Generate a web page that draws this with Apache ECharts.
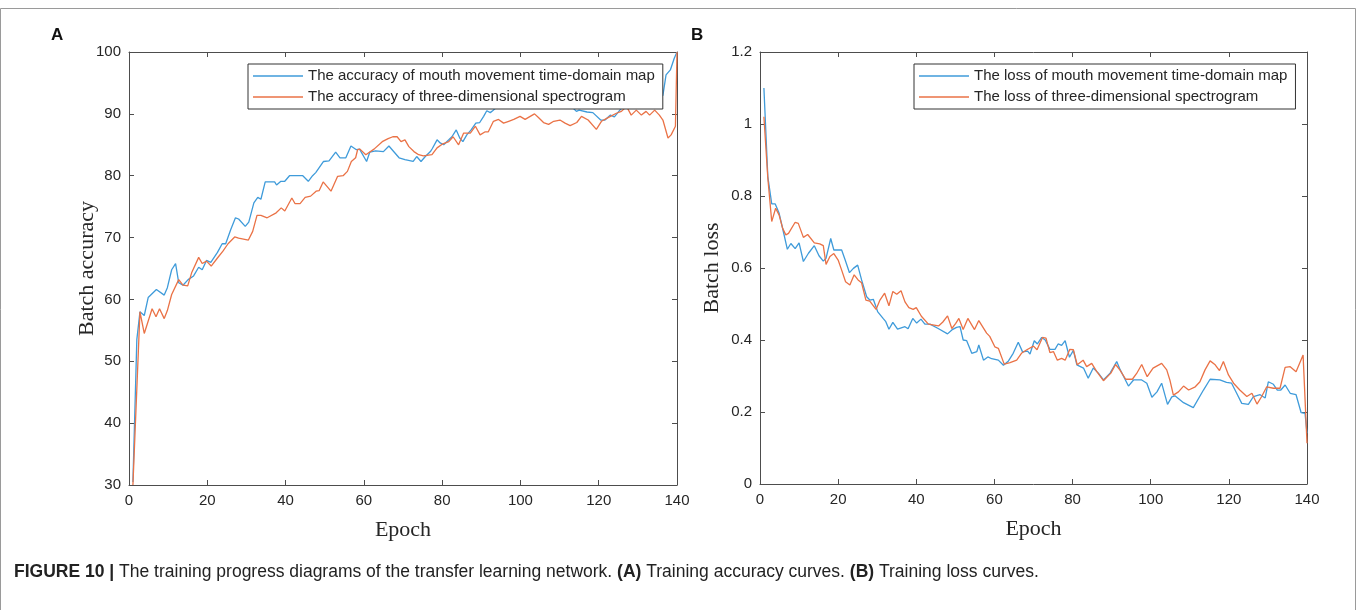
<!DOCTYPE html>
<html>
<head>
<meta charset="utf-8">
<script src="https://cdn.jsdelivr.net/npm/echarts@6/dist/echarts.min.js"></script>
<style>
  html, body { margin: 0; padding: 0; background: #fff; }
  #chart { width: 1357px; height: 610px; }
</style>
</head>
<body>
<div id="chart"></div>
<script>
// Epoch ticks shared by both panels
const epochTicks = [0, 20, 40, 60, 80, 100, 120, 140];

// (A) Training accuracy — mouth movement time-domain map
const accMapEpoch = [1, 2, 2.8, 3.9, 4.9, 7, 9, 9.8, 10.9, 11.9, 12.7, 13.8, 15.1, 16.5, 17.8, 18.7, 19.8, 20.9, 22.6, 23.8,
  24.7, 26, 27.2, 28, 29.7, 30.6, 31.9, 32.9, 33.7, 34.8, 37.2, 37.7, 38.8, 39.8, 41, 44.4, 45.8, 46.9, 47.7, 49.7,
  51.1, 52.8, 53.9, 55.4, 56.7, 58.1, 58.9, 60.7, 61.5, 63, 65, 66.4, 67.5, 69, 70.5, 72.6, 73.5, 74.6, 75.7, 77,
  77.5, 78.7, 79.5, 80.4, 81.7, 82.5, 83.6, 84.5, 85.3, 86.3, 87.4, 88.6, 89.6, 90.6, 91.4, 92.3, 92.9, 94.5, 96, 98,
  100, 102, 104, 106, 108, 110, 112, 113.5, 114.3, 115, 117, 118.5, 120.5, 121.6, 123, 124, 125.4, 126.5, 128, 130,
  132, 134, 135.5, 136.4, 137.2, 138.3, 139.3, 140];
const accMap = [30.5, 53.5, 58, 57.4, 60.3, 61.6, 60.7, 61.9, 64.8, 65.8, 62.7, 62.3, 63.2, 63.8, 65.2, 64.8, 66.3, 66, 67.6, 69,
  69, 71.3, 73.2, 73, 71.8, 72.5, 75.6, 76.5, 76.2, 79, 79, 78.5, 79.1, 79.1, 80, 80, 79.1, 80, 80.5, 82.3,
  82.4, 83.8, 82.9, 82.9, 84.8, 84.2, 84.3, 82.3, 83.8, 84, 83.9, 84.8, 84, 82.9, 82.6, 82.3, 83.1, 82.3, 83.1, 83.9,
  84.4, 85.8, 85.3, 85, 85.8, 86.3, 87.4, 86.1, 85.5, 86.6, 87.4, 88.5, 88.6, 89.6, 90.5, 90.2, 90.5, 91.4, 91.2, 91.6,
  91.3, 91.8, 91.5, 91.9, 91.4, 91.6, 91.2, 90.9, 90.4, 90.6, 90.3, 90.2, 89, 89, 89.8, 89.5, 90.6, 91.3, 91.6, 91.5,
  92, 92.3, 92.8, 93, 96.3, 97.1, 99, 100];

// (A) Training accuracy — three-dimensional spectrogram
const accSpecEpoch = [1, 2.8, 3.9, 5.9, 6.9, 7.8, 9, 9.8, 10.9, 12.7, 13.8, 15, 16, 17.8, 18.7, 19.8, 21, 22.6, 24, 25.3,
  27, 28, 30.5, 31.6, 32.7, 33.7, 35.3, 37.6, 38.9, 39.8, 41.6, 42.4, 43.7, 45, 46.4, 47.8, 48.6, 49.6, 51.6, 53.3,
  54.7, 55.8, 56.8, 57.9, 58.4, 59, 60.5, 62.6, 64.7, 66.2, 67.4, 68.5, 69.5, 70.5, 71.5, 72.8, 74, 75.2, 77.4, 78.7,
  80, 81.7, 82.8, 84.2, 85.5, 87.2, 88.5, 89.7, 91, 91.8, 93.1, 94.4, 95.7, 97, 98.3, 99.9, 101.2, 102.5, 103.6, 104.6,
  105.9, 107.2, 108.5, 110.1, 111.4, 112.7, 114.4, 115.6, 117.3, 119.4, 120.7, 122.4, 124.5, 125.8, 127.1, 128.3, 129.6, 130.9, 132.1, 133,
  134.3, 135.5, 136.4, 137.7, 138.5, 139.6, 140];
const accSpec = [30, 58, 54.5, 58.5, 57.2, 58.5, 56.9, 58.2, 60.8, 63.2, 62.3, 62.2, 64.3, 66.8, 65.8, 66.2, 65.4, 66.7, 67.8, 69,
  70.1, 69.9, 69.6, 71, 73.6, 73.6, 73.2, 74, 74.8, 74.3, 76.4, 75.5, 75.5, 76.5, 76.7, 77.5, 77.6, 79, 77.5, 79.9,
  80, 80.7, 82.3, 82.9, 84.2, 84.3, 83.4, 84.3, 85.5, 86, 86.3, 86.3, 85.5, 85.8, 84.7, 83.9, 83.4, 83.2, 83.4, 84.5,
  85.1, 85.5, 86.3, 85, 86.9, 86.9, 88, 86.6, 87.1, 87.1, 88.8, 89.1, 88.5, 88.8, 89.1, 89.6, 89.1, 89.6, 90, 89.4,
  88.6, 88.3, 88.8, 89, 88.5, 88.1, 88.6, 89.6, 89, 87.5, 88.8, 89.4, 90.1, 90.4, 91.2, 89.8, 90.6, 89.8, 90.4, 89.8,
  90.6, 89.8, 89, 86.1, 86.6, 88, 100];

// (B) Training loss — mouth movement time-domain map
const lossMapEpoch = [1, 2, 3, 3.9, 4.9, 6, 7, 7.9, 9, 10, 11.1, 12.4, 13.9, 15.1, 16.2, 16.9, 18.1, 18.9, 20.9, 21.8,
  22.9, 23.9, 25, 26, 27.3, 28.1, 29, 30.1, 31.5, 32.2, 33, 34, 35.2, 37.1, 37.9, 39.1, 40.1, 41.2, 42.2, 43.5,
  45.6, 48, 49.1, 50.3, 51.2, 52, 52.9, 54.2, 55.5, 56, 57.2, 58.3, 59.3, 61, 62.3, 63.6, 64.8, 66.1, 67.2, 68.5,
  69.1, 70.2, 71, 72.1, 73, 74.2, 75.5, 76.3, 77.2, 78.1, 79.2, 80.2, 81.1, 82.8, 84, 85.3, 86.6, 87.9, 89.6, 91.3,
  92.2, 93, 94.3, 95.6, 97.7, 99, 100.3, 101.6, 102.8, 104.3, 105.4, 106.2, 108.4, 110.9, 113.5, 115.2, 117.7, 119.4, 120.7, 122,
  123.3, 125, 126.3, 128, 129.3, 130.1, 131.4, 132.4, 133.3, 134.4, 135.7, 137.2, 138.5, 139.5, 140];
const lossMap = [1.10, 0.854, 0.778, 0.778, 0.752, 0.70, 0.652, 0.668, 0.654, 0.670, 0.618, 0.641, 0.662, 0.634, 0.619, 0.627, 0.682, 0.65, 0.65, 0.622,
  0.587, 0.599, 0.608, 0.567, 0.52, 0.511, 0.513, 0.479, 0.46, 0.451, 0.43, 0.449, 0.43, 0.437, 0.431, 0.46, 0.447, 0.458, 0.444, 0.444,
  0.432, 0.417, 0.428, 0.435, 0.437, 0.40, 0.398, 0.363, 0.368, 0.386, 0.344, 0.353, 0.348, 0.344, 0.33, 0.342, 0.363, 0.394, 0.367, 0.369,
  0.361, 0.398, 0.389, 0.407, 0.40, 0.374, 0.374, 0.389, 0.385, 0.398, 0.352, 0.371, 0.331, 0.322, 0.294, 0.322, 0.308, 0.289, 0.308, 0.34,
  0.317, 0.30, 0.272, 0.289, 0.289, 0.28, 0.241, 0.256, 0.28, 0.221, 0.242, 0.245, 0.226, 0.212, 0.261, 0.291, 0.289, 0.282, 0.28, 0.252,
  0.224, 0.221, 0.243, 0.248, 0.239, 0.284, 0.277, 0.261, 0.261, 0.275, 0.252, 0.248, 0.198, 0.196, 0.141];

// (B) Training loss — three-dimensional spectrogram
const lossSpecEpoch = [1, 2, 3, 4, 4.9, 5.8, 6.6, 7.3, 9, 9.8, 11.1, 12.2, 13.9, 15.3, 16.2, 16.9, 17.9, 18.9, 20, 20.9,
  21.9, 23, 24.1, 25.1, 26, 27.1, 28.1, 29.7, 30.7, 31.9, 33, 34, 35, 36.1, 37.1, 38.1, 39.2, 40, 41.3, 43.1,
  45.7, 46.8, 48, 49.1, 50.1, 50.9, 52, 53.2, 54.9, 56, 58, 58.8, 60.1, 61, 62.5, 64, 65.7, 67, 68.3, 70,
  70.9, 72.3, 73.2, 74.2, 75.1, 76.1, 77.2, 78.1, 79.3, 80.2, 81.2, 82.7, 83.6, 84.9, 86.2, 87.9, 89.8, 91, 92.1, 93.6,
  95.3, 96.4, 97.7, 99.1, 100.6, 102.8, 104.1, 104.9, 105.8, 107.1, 108.4, 109.7, 111.4, 112.6, 113.9, 115.2, 116.5, 117.6, 118.6, 119.9,
  121.2, 122.8, 124.6, 125.9, 127.2, 128.4, 129.7, 131.4, 133.1, 134.4, 135.7, 137.2, 139, 140];
const lossSpec = [1.02, 0.85, 0.729, 0.766, 0.747, 0.71, 0.692, 0.696, 0.727, 0.724, 0.685, 0.693, 0.67, 0.667, 0.662, 0.61, 0.632, 0.64, 0.622, 0.594,
  0.562, 0.553, 0.581, 0.567, 0.559, 0.511, 0.508, 0.485, 0.511, 0.53, 0.495, 0.535, 0.527, 0.537, 0.506, 0.49, 0.485, 0.49, 0.466, 0.444,
  0.439, 0.45, 0.467, 0.432, 0.446, 0.46, 0.429, 0.46, 0.429, 0.454, 0.419, 0.41, 0.381, 0.377, 0.333, 0.337, 0.344, 0.364, 0.373, 0.383,
  0.373, 0.407, 0.405, 0.365, 0.368, 0.344, 0.349, 0.344, 0.374, 0.373, 0.331, 0.344, 0.326, 0.335, 0.312, 0.287, 0.308, 0.332, 0.317, 0.291,
  0.291, 0.307, 0.332, 0.298, 0.322, 0.335, 0.317, 0.289, 0.247, 0.256, 0.272, 0.261, 0.27, 0.284, 0.317, 0.342, 0.331, 0.315, 0.34, 0.303,
  0.28, 0.261, 0.243, 0.252, 0.222, 0.243, 0.27, 0.266, 0.266, 0.324, 0.326, 0.312, 0.358, 0.113];

const seriesNames = [
  'The accuracy of mouth movement time-domain map',
  'The accuracy of three-dimensional spectrogram',
  'The loss of mouth movement time-domain map',
  'The loss of three-dimensional spectrogram'
];

const BLUE = '#3f9bda';
const ORANGE = '#ea7246';
const AXIS = '#4d4d4d';
const TEXT = '#262626';
const SANS = '"Liberation Sans", Arial, sans-serif';
const SERIF = '"Liberation Serif", "Times New Roman", serif';

const pairs = (xs, ys) => xs.map((x, i) => [x, ys[i]]);

function labelAxis(gridIndex, extra) {
  return Object.assign({
    gridIndex,
    type: 'value',
    axisLine: { show: true, onZero: false, lineStyle: { color: AXIS, width: 1 } },
    axisTick: { show: true, inside: true, length: 5, lineStyle: { color: AXIS } },
    axisLabel: { show: true, color: TEXT, fontSize: 15, fontFamily: SANS },
    splitLine: { show: false },
    nameTextStyle: { color: TEXT, fontSize: 22, fontFamily: SERIF }
  }, extra);
}
function mirrorAxis(gridIndex, extra) {
  return Object.assign({
    gridIndex,
    type: 'value',
    axisLine: { show: true, onZero: false, lineStyle: { color: AXIS, width: 1 } },
    axisTick: { show: true, inside: true, length: 5, lineStyle: { color: AXIS } },
    axisLabel: { show: false },
    splitLine: { show: false }
  }, extra);
}

const xBase = { min: epochTicks[0], max: epochTicks[epochTicks.length - 1], interval: 20 };

const legendBase = {
  orient: 'vertical',
  backgroundColor: '#ffffff',
  borderColor: '#333333',
  borderWidth: 1,
  borderRadius: 0,
  padding: [2, 8, 2, 5],
  itemGap: 1,
  itemWidth: 50,
  itemHeight: 1.5,
  icon: 'rect',
  textStyle: { fontSize: 15, color: TEXT, fontFamily: SANS, lineHeight: 20, padding: [0, 0, 0, 0] },
  selectedMode: false
};

function line(name, data, color, axisIdx) {
  return {
    name, type: 'line', data,
    xAxisIndex: axisIdx, yAxisIndex: axisIdx,
    showSymbol: false, symbol: 'none',
    lineStyle: { color, width: 1.3 },
    itemStyle: { color },
    z: 2
  };
}

const chart = echarts.init(document.getElementById('chart'), null, { renderer: 'canvas' });
chart.setOption({
  animation: false,
  backgroundColor: '#ffffff',
  grid: [
    { left: 129, top: 52, width: 548, height: 433 },
    { left: 760, top: 52, width: 547, height: 432 }
  ],
  xAxis: [
    labelAxis(0, Object.assign({ position: 'bottom', name: 'Epoch', nameLocation: 'middle', nameGap: 34 }, xBase)),
    labelAxis(1, Object.assign({ position: 'bottom', name: 'Epoch', nameLocation: 'middle', nameGap: 34 }, xBase)),
    mirrorAxis(0, Object.assign({ position: 'top' }, xBase)),
    mirrorAxis(1, Object.assign({ position: 'top' }, xBase))
  ],
  yAxis: [
    labelAxis(0, { position: 'left', min: 30, max: 100, interval: 10, name: 'Batch accuracy', nameLocation: 'middle', nameGap: 31, nameMoveOverlap: false }),
    labelAxis(1, { position: 'left', min: 0, max: 1.2, interval: 0.2, name: 'Batch loss', nameLocation: 'middle', nameGap: 37, nameMoveOverlap: false }),
    mirrorAxis(0, { position: 'right', min: 30, max: 100, interval: 10 }),
    mirrorAxis(1, { position: 'right', min: 0, max: 1.2, interval: 0.2 })
  ],
  legend: [
    Object.assign({ data: [seriesNames[0], seriesNames[1]], left: 248, top: 64 }, legendBase),
    Object.assign({ data: [seriesNames[2], seriesNames[3]], left: 914, top: 64 }, legendBase)
  ],
  series: [
    line(seriesNames[0], pairs(accMapEpoch, accMap), BLUE, 0),
    line(seriesNames[1], pairs(accSpecEpoch, accSpec), ORANGE, 0),
    line(seriesNames[2], pairs(lossMapEpoch, lossMap), BLUE, 1),
    line(seriesNames[3], pairs(lossSpecEpoch, lossSpec), ORANGE, 1)
  ],
  graphic: [
    { type: 'rect', shape: { x: 0.5, y: 8.5, width: 1355, height: 610 }, style: { fill: 'none', stroke: '#9a9a9a', lineWidth: 1 }, z: 0, silent: true },
    { type: 'text', left: 51, top: 27, style: { text: 'A', font: 'bold 17px ' + SANS, fill: '#111' } },
    { type: 'text', left: 691, top: 27, style: { text: 'B', font: 'bold 17px ' + SANS, fill: '#111' } },
    {
      type: 'text', left: 14, top: 563,
      style: {
        text: '{b|FIGURE 10 |} The training progress diagrams of the transfer learning network. {b|(A)} Training accuracy curves. {b|(B)} Training loss curves.',
        font: '17.5px ' + SANS, fill: '#222',
        rich: { b: { fontWeight: 'bold', fontSize: 17.5, fontFamily: SANS, fill: '#222' } }
      }
    }
  ]
});
</script>
</body>
</html>
